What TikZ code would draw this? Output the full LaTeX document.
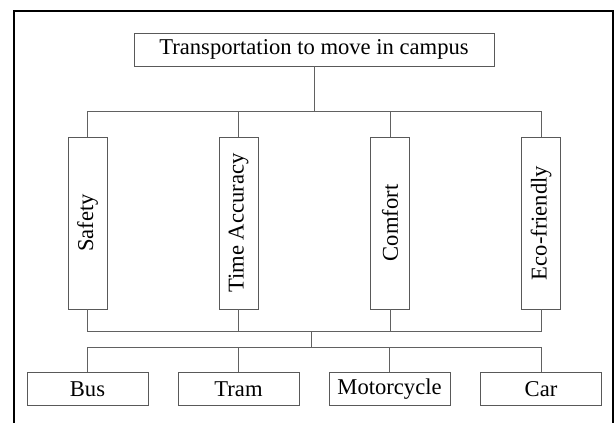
\documentclass[tikz,border=0pt]{standalone}
\usepackage{fontspec}
\usepackage{graphicx}
\setmainfont{Liberation Serif}
\begin{document}
\begin{tikzpicture}[x=1pt,y=-1pt,
  box/.style={draw=black!65,line width=0.9pt,inner sep=0pt,font=\fontsize{22.6}{26}\selectfont,text=black},
  hbox/.style={box,minimum width=121pt,minimum height=33pt},
  vbox/.style={box,minimum width=39pt,minimum height=172pt},
  conn/.style={draw=black!62,line width=0.9pt},
  frame/.style={draw=black,line width=1.8pt}]
\useasboundingbox (0,0) rectangle (614,423);
\draw[frame] (14,430) -- (14,11) -- (613,11) -- (613,430);
\node[box,minimum width=360pt,minimum height=33pt] (title) at (314,49.5) {Transportation to move in campus};
\node[vbox] (saf) at (87.5,223) {\rotatebox{90}{Safety}};
\node[vbox] (time) at (238.5,223) {\rotatebox{90}{Time Accuracy}};
\node[vbox] (comf) at (390,223) {\rotatebox{90}{Comfort}};
\node[vbox] (eco) at (541,223) {\rotatebox{90}{Eco-friendly}};
\node[hbox] (bus) at (87.5,389) {Bus};
\node[hbox] (tram) at (238.5,389) {Tram};
\node[hbox] (moto) at (389.5,389) {Motorcycle};
\node[hbox] (car) at (541,389) {Car};
\coordinate (j1) at (314,111);
\coordinate (j2) at (311,331);
\coordinate (j3) at (311,347);
\draw[conn] (title.south) -- (j1);
\draw[conn] (saf.north) |- (j1);
\draw[conn] (time.north) |- (j1);
\draw[conn] (comf.north) |- (j1);
\draw[conn] (eco.north) |- (j1);
\draw[conn] (saf.south) |- (j2);
\draw[conn] (time.south) |- (j2);
\draw[conn] (comf.south) |- (j2);
\draw[conn] (eco.south) |- (j2);
\draw[conn] (j2) -- (j3);
\draw[conn] (j3) -| (bus.north);
\draw[conn] (j3) -| (tram.north);
\draw[conn] (j3) -| (moto.north);
\draw[conn] (j3) -| (car.north);
\end{tikzpicture}
\end{document}
